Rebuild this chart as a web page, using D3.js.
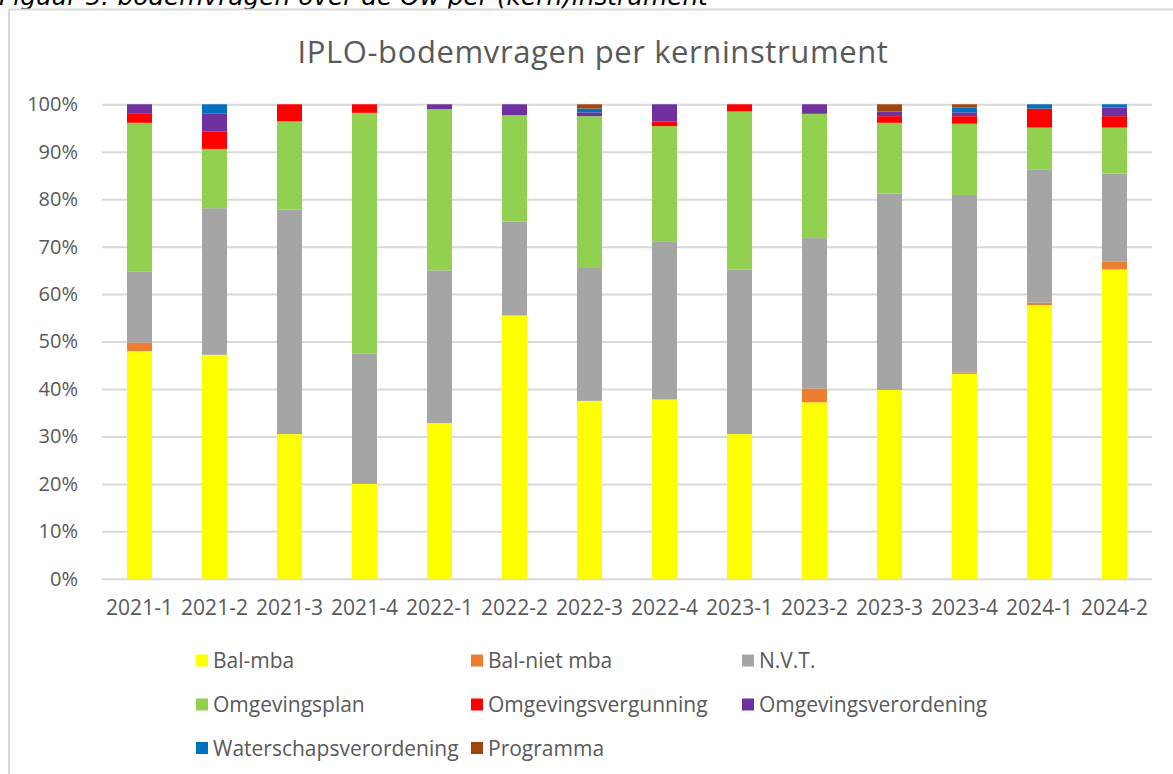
<!DOCTYPE html>
<html>
<head>
<meta charset="utf-8">
<script src="https://cdn.jsdelivr.net/npm/d3@7"></script>
<style>
	body { margin: 0; background: #ffffff; }
	svg text { font-family: "Open Sans", "Noto Sans", sans-serif; fill: #595959; }
</style>
</head>
<body>
<svg id="chart" width="1173" height="774"></svg>
<script>

var categories = ["2021-1", "2021-2", "2021-3", "2021-4", "2022-1", "2022-2", "2022-3", "2022-4", "2023-1", "2023-2", "2023-3", "2023-4", "2024-1", "2024-2"];

// percentages per kwartaal
var balMba         = [48.0, 47.2, 30.5, 20.0, 32.8, 55.5, 37.5, 37.8, 30.5, 37.2, 39.8, 43.2, 57.7, 65.2];
var balNietMba     = [ 1.8,  0.0,  0.0,  0.0,  0.0,  0.0,  0.0,  0.0,  0.0,  2.9,  0.0,  0.3,  0.5,  1.6];
var nvt            = [15.0, 30.9, 47.3, 27.5, 32.2, 19.8, 28.0, 33.2, 34.7, 31.7, 41.4, 37.4, 28.0, 18.6];
var omgevingsplan  = [31.3, 12.5, 18.6, 50.7, 34.0, 22.4, 32.0, 24.4, 33.3, 26.2, 14.9, 15.0,  8.9,  9.7];
var omgVergunning  = [ 1.9,  3.7,  3.6,  1.8,  0.0,  0.0,  0.0,  1.0,  1.5,  0.0,  1.4,  1.6,  4.0,  2.4];
var omgVerordening = [ 2.0,  3.7,  0.0,  0.0,  1.0,  2.3,  0.8,  3.6,  0.0,  2.0,  1.0,  0.8,  0.0,  1.8];
var waterschap     = [ 0.0,  2.0,  0.0,  0.0,  0.0,  0.0,  0.8,  0.0,  0.0,  0.0,  0.0,  1.0,  0.9,  0.7];
var programma      = [ 0.0,  0.0,  0.0,  0.0,  0.0,  0.0,  0.9,  0.0,  0.0,  0.0,  1.5,  0.7,  0.0,  0.0];

var seriesNames = ["Bal-mba", "Bal-niet mba", "N.V.T.", "Omgevingsplan", "Omgevingsvergunning", "Omgevingsverordening", "Waterschapsverordening", "Programma"];
var seriesValues = [balMba, balNietMba, nvt, omgevingsplan, omgVergunning, omgVerordening, waterschap, programma];
var seriesColors = ["#ffff00", "#ed7d31", "#a5a5a5", "#92d050", "#ff0000", "#7030a0", "#0070c0", "#9e480e"];

var yTicks = [0, 10, 20, 30, 40, 50, 60, 70, 80, 90, 100];

var title = "IPLO-bodemvragen per kerninstrument";
var caption = "Figuur 5: bodemvragen over de Ow per (kern)instrument";


var svg = d3.select("#chart");

// rows for d3.stack
var table = [];
for (var i = 0; i < categories.length; i++)
{
	var row = { cat: categories[i] };
	for (var s = 0; s < seriesNames.length; s++)
		row[seriesNames[s]] = seriesValues[s][i];
	table.push(row);
}

var stacked = d3.stack().keys(seriesNames)(table);

var x = d3.scaleBand()
	.domain(categories)
	.range([102, 1152])
	.paddingInner(2 / 3)
	.paddingOuter(1 / 3);

var y = d3.scaleLinear()
	.domain([0, 100])
	.range([578.8, 104.3]);

// caption above the chart frame (cut off in the original screenshot too)
svg.append("text")
	.attr("x", -1)
	.attr("y", 5)
	.style("font-family", "'DejaVu Sans', sans-serif")
	.style("font-style", "italic")
	.style("font-size", "24.8px")
	.style("fill", "#000000")
	.text(caption);

// chart frame
svg.append("rect")
	.attr("x", 9)
	.attr("y", 9.5)
	.attr("width", 1200)
	.attr("height", 800)
	.attr("fill", "none")
	.attr("stroke", "#d9d9d9")
	.attr("stroke-width", 2);

svg.append("text")
	.attr("x", 593)
	.attr("y", 63)
	.attr("text-anchor", "middle")
	.style("font-size", "31px")
	.style("letter-spacing", "0.6px")
	.text(title);

// gridlines + y labels
var yAxis = d3.axisLeft(y)
	.tickValues(yTicks)
	.tickSize(-1050)
	.tickPadding(24)
	.tickFormat(function(d) { return d + "%"; });

var gy = svg.append("g")
	.attr("transform", "translate(102,0)")
	.call(yAxis);

gy.select(".domain").remove();
gy.selectAll(".tick line")
	.attr("stroke", "#d9d9d9")
	.attr("stroke-width", 2);
gy.selectAll(".tick text")
	.style("font-size", "20px")
	.style("fill", "#595959");

// bars
svg.append("g")
	.selectAll("g")
	.data(stacked)
	.enter()
	.append("g")
	.attr("fill", function(d, i) { return seriesColors[i]; })
	.selectAll("rect")
	.data(function(d) { return d; })
	.enter()
	.append("rect")
	.attr("x", function(d) { return x(d.data.cat); })
	.attr("y", function(d) { return y(d[1]); })
	.attr("width", x.bandwidth())
	.attr("height", function(d) { return y(d[0]) - y(d[1]); });

// x labels
var xAxis = d3.axisBottom(x).tickSize(0).tickPadding(0);
var gx = svg.append("g")
	.attr("transform", "translate(0,578.8)")
	.call(xAxis);

gx.select(".domain").remove();
gx.selectAll(".tick text")
	.attr("y", 36)
	.attr("dy", 0)
	.style("font-size", "21px")
	.style("fill", "#595959");

// legend, 3 columns
var legendCols = [196, 471, 742];
var legendRows = [660.5, 704.5, 748];

var legend = svg.append("g")
	.selectAll("g")
	.data(seriesNames)
	.enter()
	.append("g")
	.attr("transform", function(d, i)
	{
		return "translate(" + legendCols[i % 3] + "," + legendRows[Math.floor(i / 3)] + ")";
	});

legend.append("rect")
	.attr("x", 0)
	.attr("y", -6)
	.attr("width", 12)
	.attr("height", 12)
	.attr("fill", function(d, i) { return seriesColors[i]; });

legend.append("text")
	.attr("x", 17)
	.attr("y", 7.5)
	.style("font-size", "21px")
	.text(function(d) { return d; });

</script>
</body>
</html>
